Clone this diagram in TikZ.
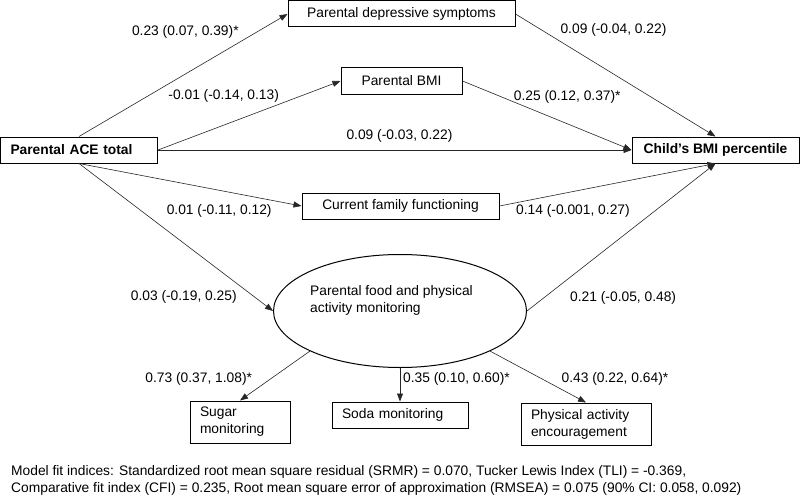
\documentclass[tikz,border=0pt]{standalone}
\usepackage{fontspec}
\setmainfont{Liberation Sans}
\usepackage{tikz}
\usetikzlibrary{arrows.meta,shapes.geometric}

\begin{document}
\begin{tikzpicture}[x=1pt,y=-1pt,>={Triangle[length=8pt,width=6pt]}]
    \useasboundingbox (0,0) rectangle (800,495);

    \tikzstyle{every node}=[font=\fontsize{13.8}{17}\selectfont]
    \tikzstyle{bold}=[font=\fontsize{13.8}{17}\selectfont\bfseries]  % bold text
    \tikzstyle{format}=[rectangle,draw,line width=1pt,inner sep=0pt,minimum height=26pt]  % observed variable
    \tikzstyle{leftbox}=[format,align=left,inner xsep=10pt]  % box with left-aligned text
    \tikzstyle{latent}=[ellipse,draw,line width=1pt,inner sep=0pt,minimum width=253pt,minimum height=113pt]  % latent variable
    \tikzstyle{link}=[->,line width=.6pt,draw=black!85]  % path
    \tikzstyle{coef}=[inner sep=0pt]  % path coefficient

    % variables
    \node[format,minimum width=227pt](dep) at (401.5,14){Parental depressive symptoms};
    \node[format,minimum width=121pt](pbmi) at (401.5,81){Parental BMI};
    \node[leftbox,bold,text width=137pt](ace) at (79,150){Parental ACE total};
    \node[format,bold,minimum width=167pt](child) at (715.5,150){Child’s BMI percentile};
    \node[format,minimum width=197pt](fam) at (400.5,206){Current family functioning};
    \node[latent,label={[align=left,xshift=-8.5pt,yshift=10.5pt]center:Parental food and physical\\activity monitoring}](mon) at (400,311){};
    \node[leftbox,text width=80pt,minimum height=42pt](sugar) at (240,422){Sugar\\monitoring};
    \node[leftbox,text width=116pt](soda) at (400,415){Soda monitoring};
    \node[leftbox,text width=110pt,minimum height=42pt](pa) at (586,424){Physical activity\\encouragement};

    % fit indices
    \node[coef,anchor=north west,align=left](fit) at (11,465){Model fit indices: Standardized root mean square residual (SRMR) = 0.070, Tucker Lewis Index (TLI) = -0.369,\\Comparative fit index (CFI) = 0.235, Root mean square error of approximation (RMSEA) = 0.075 (90\% CI: 0.058, 0.092)};

    % paths
    \draw[link](ace.north)--node[coef,pos=.51,yshift=42.5pt](c1){0.23 (0.07, 0.39)*}(dep.west);
    \draw[link](ace.east)--node[coef,pos=.36,yshift=29pt](c2){-0.01 (-0.14, 0.13)}(pbmi.west);
    \draw[link](ace.east)--node[coef,pos=.51,yshift=14pt](c3){0.09 (-0.03, 0.22)}(child.west);
    \draw[link](ace.south)--node[coef,pos=.63,yshift=-21pt](c4){0.01 (-0.11, 0.12)}(fam.west);
    \draw[link](ace.south)--node[coef,pos=.54,yshift=-54pt](c5){0.03 (-0.19, 0.25)}(mon.west);
    \draw[link](dep.east)--node[coef,pos=.49,yshift=44pt](c6){0.09 (-0.04, 0.22)}(child.north);
    \draw[link](pbmi.east)--node[coef,pos=.62,yshift=27pt](c7){0.25 (0.12, 0.37)*}(child.west);
    \draw[link](fam.east)--node[coef,pos=.34,yshift=-19.5pt](c8){0.14 (-0.001, 0.27)}(child.south);
    \draw[link](mon.east)--node[coef,pos=.51,yshift=-62pt](c9){0.21 (-0.05, 0.48)}(child.south);
    \draw[link](mon.204)--node[coef,pos=.56,xshift=-72pt](c10){0.73 (0.37, 1.08)*}(sugar.north);
    \draw[link](mon.south)--node[coef,pos=.33,xshift=56.5pt](c11){0.35 (0.10, 0.60)*}(soda.north);
    \draw[link](mon.336)--node[coef,pos=.54,xshift=73pt](c12){0.43 (0.22, 0.64)*}(pa.north);
\end{tikzpicture}
\end{document}
